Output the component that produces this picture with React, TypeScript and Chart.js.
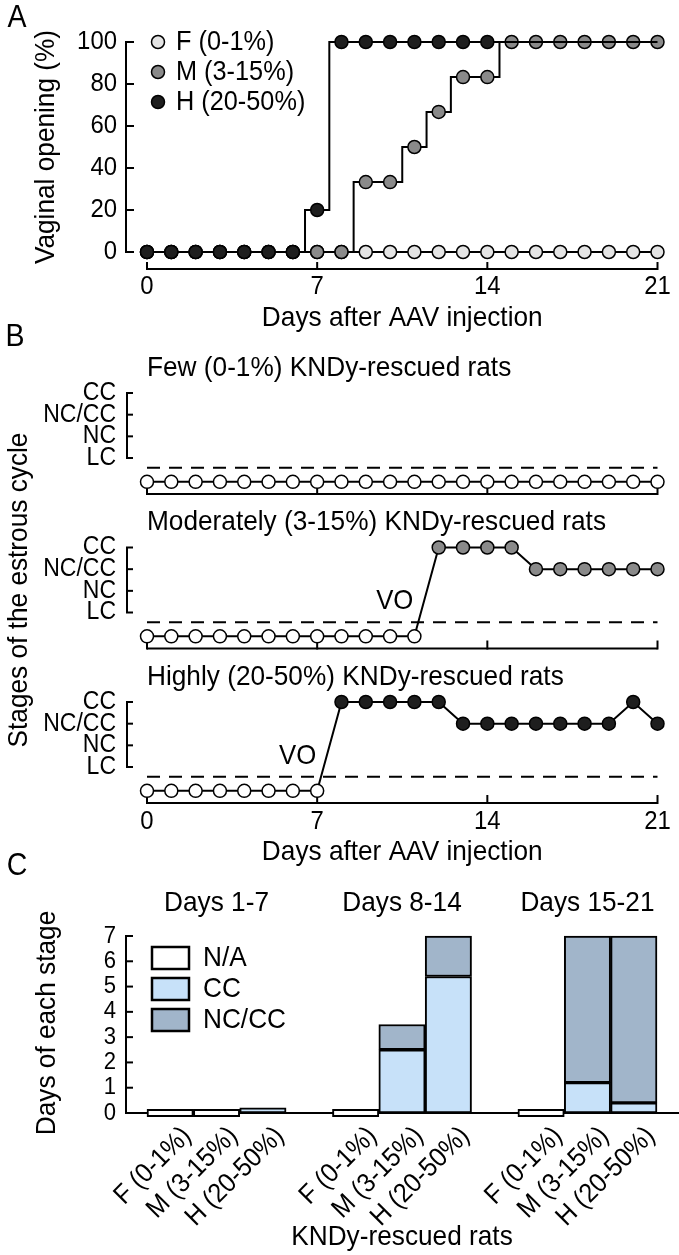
import React, { useEffect, useRef } from 'react';
import { Chart, registerables } from 'chart.js';

Chart.register(...registerables);

// ---------------- data ----------------
const days = [0, 1, 2, 3, 4, 5, 6, 7, 8, 9, 10, 11, 12, 13, 14, 15, 16, 17, 18, 19, 20, 21];
const dayTicks = [0, 7, 14, 21];
const pctTicks = [0, 20, 40, 60, 80, 100];

const seriesNames = ['F (0-1%)', 'M (3-15%)', 'H (20-50%)'];
const vaginalF = [0, 0, 0, 0, 0, 0, 0, 0, 0, 0, 0, 0, 0, 0, 0, 0, 0, 0, 0, 0, 0, 0];
const vaginalM = [0, 0, 0, 0, 0, 0, 0, 0, 0, 33.3, 33.3, 50, 66.7, 83.3, 83.3, 100, 100, 100, 100, 100, 100, 100];
const vaginalH = [0, 0, 0, 0, 0, 0, 0, 20, 100, 100, 100, 100, 100, 100, 100, 100, 100, 100, 100, 100, 100, 100];

const PRE = '-';
const stageLabels = ['CC', 'NC/CC', 'NC', 'LC'];
const subTitles = [
  'Few (0-1%) KNDy-rescued rats',
  'Moderately (3-15%) KNDy-rescued rats',
  'Highly (20-50%) KNDy-rescued rats',
];
const stagesFew = ['-', '-', '-', '-', '-', '-', '-', '-', '-', '-', '-', '-', '-', '-', '-', '-', '-', '-', '-', '-', '-', '-'];
const stagesModerate = ['-', '-', '-', '-', '-', '-', '-', '-', '-', '-', '-', '-', 'CC', 'CC', 'CC', 'CC', 'NC/CC', 'NC/CC', 'NC/CC', 'NC/CC', 'NC/CC', 'NC/CC'];
const stagesHigh = ['-', '-', '-', '-', '-', '-', '-', '-', 'CC', 'CC', 'CC', 'CC', 'CC', 'NC/CC', 'NC/CC', 'NC/CC', 'NC/CC', 'NC/CC', 'NC/CC', 'NC/CC', 'CC', 'NC/CC'];

const periods = ['Days 1-7', 'Days 8-14', 'Days 15-21'];
const ratGroups = ['F (0-1%)', 'M (3-15%)', 'H (20-50%)'];
const ccDays = [[0, 0, 0.2], [0, 2.5, 5.4], [0, 1.2, 0.4]];
const ncccDays = [[0, 0, 0], [0, 1.0, 1.6], [0, 5.8, 6.6]];
const stackTicks = [0, 1, 2, 3, 4, 5, 6, 7];
const stackLegend = ['N/A', 'CC', 'NC/CC'];

// ---------------- style ----------------
const W = 679;
const H = 1255;
const FONT = '"Liberation Sans", Arial, Helvetica, sans-serif';
const SX = 0.92; // slightly condensed lettering
const COL_F = '#e4e4e4';
const COL_M = '#8a8a8a';
const COL_H = '#1e1e1e';
const COL_NA = '#ffffff';
const COL_CC = '#c7e1f9';
const COL_NCCC = '#a1b5ca';
const R = 6.5;

const stageY: Record<string, number> = { CC: 4, 'NC/CC': 3, NC: 2, LC: 1, '-': -0.1 };
const VO_LEVEL = 0.55;

function pad(left: number, top: number, right: number, bottom: number) {
  return { left, top, right: W - right, bottom: H - bottom };
}

function txt(ctx: CanvasRenderingContext2D, s: string, x: number, y: number, size: number, align: CanvasTextAlign = 'center', rot = 0) {
  ctx.save();
  ctx.font = `${size}px ${FONT}`;
  ctx.fillStyle = '#000';
  ctx.textAlign = align;
  ctx.textBaseline = 'middle';
  ctx.translate(x, y);
  if (rot) ctx.rotate(rot);
  ctx.scale(SX, 1);
  ctx.fillText(s, 0, 0);
  ctx.restore();
}

function poly(ctx: CanvasRenderingContext2D, pts: number[][], w = 2, dash: number[] = []) {
  ctx.save();
  ctx.strokeStyle = '#000';
  ctx.lineWidth = w;
  ctx.lineCap = 'butt';
  ctx.lineJoin = 'miter';
  ctx.setLineDash(dash);
  ctx.beginPath();
  pts.forEach((p, i) => (i ? ctx.lineTo(p[0], p[1]) : ctx.moveTo(p[0], p[1])));
  ctx.stroke();
  ctx.restore();
}

function baseOptions(padding: any) {
  return {
    responsive: false,
    animation: false as const,
    devicePixelRatio: 1,
    events: [] as any[],
    layout: { padding },
    plugins: { legend: { display: false }, tooltip: { enabled: false }, title: { display: false } },
  };
}

export default function App() {
  const refA = useRef<HTMLCanvasElement>(null);
  const refB0 = useRef<HTMLCanvasElement>(null);
  const refB1 = useRef<HTMLCanvasElement>(null);
  const refB2 = useRef<HTMLCanvasElement>(null);
  const refC = useRef<HTMLCanvasElement>(null);

  useEffect(() => {
    const charts: Chart[] = [];

    // ---------- Panel A ----------
    const pts = (vals: number[]) => days.map((d, i) => ({ x: d, y: vals[i] }));
    const lineDs = (label: string, vals: number[], fill: string, order: number, radius: any) => ({
      label,
      data: pts(vals),
      order,
      stepped: 'middle' as const,
      borderColor: '#000',
      borderWidth: 2,
      pointBackgroundColor: fill,
      pointBorderColor: '#000',
      pointBorderWidth: 1.5,
      pointRadius: radius,
      clip: false as any,
    });
    charts.push(
      new Chart(refA.current!, {
        type: 'line',
        data: {
          datasets: [
            lineDs(seriesNames[2], vaginalH, COL_H, 0, (c: any) => (c.dataIndex <= 14 ? R : 0)),
            lineDs(seriesNames[1], vaginalM, COL_M, 1, R),
            lineDs(seriesNames[0], vaginalF, COL_F, 2, R),
          ],
        },
        options: {
          ...baseOptions(pad(147, 42, 657.5, 252)),
          scales: {
            x: { type: 'linear', display: false, min: 0, max: 21 },
            y: { type: 'linear', display: false, min: 0, max: 100 },
          },
        } as any,
        plugins: [
          {
            id: 'decoA',
            beforeDatasetsDraw(chart: any) {
              const ctx = chart.ctx;
              const xs = chart.scales.x;
              const ys = chart.scales.y;
              const ax = 126;
              poly(ctx, [[ax, ys.getPixelForValue(0)], [ax, ys.getPixelForValue(100)]]);
              pctTicks.forEach((v) => poly(ctx, [[ax - 1, ys.getPixelForValue(v)], [ax + 8, ys.getPixelForValue(v)]]));
              const by = 269;
              poly(ctx, [[xs.getPixelForValue(0), by], [xs.getPixelForValue(21), by]]);
              dayTicks.forEach((d) => poly(ctx, [[xs.getPixelForValue(d), by + 1], [xs.getPixelForValue(d), by - 7]]));
            },
            afterDraw(chart: any) {
              const ctx = chart.ctx;
              const xs = chart.scales.x;
              const ys = chart.scales.y;
              txt(ctx, 'A', 17, 18, 31);
              pctTicks.forEach((v) => txt(ctx, String(v), 117, ys.getPixelForValue(v), 26, 'right'));
              dayTicks.forEach((d) => txt(ctx, String(d), xs.getPixelForValue(d), 287, 26));
              txt(ctx, 'Days after AAV injection', xs.getPixelForValue(10.5), 318, 28.5);
              txt(ctx, 'Vaginal opening (%)', 46, 147, 28.5, 'center', -Math.PI / 2);
              const fills = [COL_F, COL_M, COL_H];
              seriesNames.forEach((n, i) => {
                const y = 42 + i * 30;
                ctx.save();
                ctx.beginPath();
                ctx.arc(158, y, R, 0, Math.PI * 2);
                ctx.fillStyle = fills[i];
                ctx.fill();
                ctx.lineWidth = 1.5;
                ctx.strokeStyle = '#000';
                ctx.stroke();
                ctx.restore();
                txt(ctx, n, 176, y, 27.5, 'left');
              });
            },
          },
        ],
      })
    );

    // ---------- Panel B ----------
    const bRefs = [refB0, refB1, refB2];
    const bStages = [stagesFew, stagesModerate, stagesHigh];
    const bColors = [COL_F, COL_M, COL_H];
    const bOffsets = [0, 154.5, 309];
    bStages.forEach((stages, k) => {
      const dy = bOffsets[k];
      charts.push(
        new Chart(bRefs[k].current!, {
          type: 'line',
          data: {
            datasets: [
              {
                label: subTitles[k],
                data: days.map((d, i) => ({ x: d, y: stageY[stages[i]] })),
                borderColor: '#000',
                borderWidth: 2,
                tension: 0,
                pointRadius: R,
                pointBorderWidth: 1.5,
                pointBorderColor: '#000',
                pointBackgroundColor: stages.map((s) => (s === PRE ? '#ffffff' : bColors[k])),
                clip: false as any,
              },
            ],
          },
          options: {
            ...baseOptions(pad(147, 393 + dy, 657.5, 494 + dy)),
            scales: {
              x: { type: 'linear', display: false, min: 0, max: 21 },
              y: { type: 'linear', display: false, min: -0.66, max: 4 },
            },
          } as any,
          plugins: [
            {
              id: 'decoB' + k,
              beforeDatasetsDraw(chart: any) {
                const ctx = chart.ctx;
                const xs = chart.scales.x;
                const ys = chart.scales.y;
                const ax = 127;
                poly(ctx, [[ax + 6, ys.getPixelForValue(4)], [ax, ys.getPixelForValue(4)], [ax, ys.getPixelForValue(1)], [ax + 6, ys.getPixelForValue(1)]]);
                [2, 3].forEach((v) => poly(ctx, [[ax, ys.getPixelForValue(v)], [ax + 6, ys.getPixelForValue(v)]]));
                poly(ctx, [[xs.getPixelForValue(0), ys.getPixelForValue(VO_LEVEL)], [xs.getPixelForValue(21), ys.getPixelForValue(VO_LEVEL)]], 2, [13, 9]);
                const by = chart.chartArea.bottom;
                poly(ctx, [[xs.getPixelForValue(0), by], [xs.getPixelForValue(21), by]]);
                dayTicks.forEach((d) => poly(ctx, [[xs.getPixelForValue(d), by + 1], [xs.getPixelForValue(d), by - 8]]));
              },
              afterDraw(chart: any) {
                const ctx = chart.ctx;
                const xs = chart.scales.x;
                const ys = chart.scales.y;
                txt(ctx, subTitles[k], 147, 368 + dy, 28.5, 'left');
                stageLabels.forEach((s) => txt(ctx, s, 116, ys.getPixelForValue(stageY[s]), 25, 'right'));
                const firstPost = stages.findIndex((s) => s !== PRE);
                if (firstPost > 0) txt(ctx, 'VO', xs.getPixelForValue(firstPost - 1) - 1, ys.getPixelForValue(1.5), 28, 'right');
                if (k === 0) txt(ctx, 'B', 15, 337, 31);
                if (k === 1) txt(ctx, 'Stages of the estrous cycle', 19, 590, 28.5, 'center', -Math.PI / 2);
                if (k === 2) {
                  dayTicks.forEach((d) => txt(ctx, String(d), xs.getPixelForValue(d), 822, 26));
                  txt(ctx, 'Days after AAV injection', xs.getPixelForValue(10.5), 852, 28.5);
                }
              },
            },
          ],
        })
      );
    });

    // ---------- Panel C ----------
    const slotLabels: string[] = [];
    const naData: any[] = [];
    const ccData: any[] = [];
    const ncData: any[] = [];
    periods.forEach((p, g) => {
      ratGroups.forEach((r, j) => {
        const cc = ccDays[g][j];
        const nc = ncccDays[g][j];
        slotLabels.push(r);
        naData.push(cc + nc === 0 ? [-0.15, 0.15] : null);
        ccData.push(cc > 0 ? [0, cc] : null);
        ncData.push(nc > 0 ? [cc, cc + nc] : null);
      });
      if (g < periods.length - 1) {
        slotLabels.push('');
        naData.push(null);
        ccData.push(null);
        ncData.push(null);
      }
    });
    const barDs = (label: string, data: any[], color: string) => ({
      label,
      data,
      backgroundColor: color,
      borderColor: '#000',
      borderWidth: 2,
      borderSkipped: false as any,
      grouped: false,
      barPercentage: 1,
      categoryPercentage: 1,
      clip: false as any,
    });
    const legendColors = [COL_NA, COL_CC, COL_NCCC];
    charts.push(
      new Chart(refC.current!, {
        type: 'bar',
        data: {
          labels: slotLabels,
          datasets: [
            barDs(stackLegend[0], naData, COL_NA),
            barDs(stackLegend[1], ccData, COL_CC),
            barDs(stackLegend[2], ncData, COL_NCCC),
          ],
        },
        options: {
          ...baseOptions(pad(147, 936, 657, 1113)),
          scales: {
            x: { type: 'category', display: false, offset: true },
            y: { type: 'linear', display: false, min: 0, max: 7 },
          },
        } as any,
        plugins: [
          {
            id: 'decoC',
            beforeDatasetsDraw(chart: any) {
              const ctx = chart.ctx;
              const ys = chart.scales.y;
              const ax = 126;
              poly(ctx, [[ax, ys.getPixelForValue(0)], [ax, ys.getPixelForValue(7)]]);
              stackTicks.forEach((v) => poly(ctx, [[ax - 1, ys.getPixelForValue(v)], [ax + 7, ys.getPixelForValue(v)]]));
              poly(ctx, [[ax - 1, ys.getPixelForValue(0)], [W, ys.getPixelForValue(0)]]);
            },
            afterDraw(chart: any) {
              const ctx = chart.ctx;
              const xs = chart.scales.x;
              const ys = chart.scales.y;
              txt(ctx, 'C', 17, 866, 31);
              stackTicks.forEach((v) => txt(ctx, String(v), 116, ys.getPixelForValue(v), 24, 'right'));
              slotLabels.forEach((l, i) => {
                if (!l) return;
                txt(ctx, l, xs.getPixelForValue(i) + 17, 1132, 27, 'right', -Math.PI / 4);
              });
              periods.forEach((p, g) => txt(ctx, p, xs.getPixelForValue(g * 4 + 1), 903, 28.5));
              stackLegend.forEach((n, i) => {
                const y = 958 + i * 31;
                ctx.save();
                ctx.fillStyle = legendColors[i];
                ctx.fillRect(152, y - 11, 37, 22);
                ctx.lineWidth = 2.5;
                ctx.strokeStyle = '#000';
                ctx.strokeRect(152, y - 11, 37, 22);
                ctx.restore();
                txt(ctx, n, 203, y, 28.5, 'left');
              });
              txt(ctx, 'Days of each stage', 47, 1023, 28.5, 'center', -Math.PI / 2);
              txt(ctx, 'KNDy-rescued rats', xs.getPixelForValue(5), 1237, 28.5);
            },
          },
        ],
      })
    );

    return () => charts.forEach((c) => c.destroy());
  }, []);

  const cs: React.CSSProperties = { position: 'absolute', left: 0, top: 0, width: W, height: H };
  return (
    <div style={{ position: 'absolute', left: 0, top: 0, width: W, height: H, background: '#fff', overflow: 'hidden' }}>
      <canvas ref={refA} width={W} height={H} style={cs} />
      <canvas ref={refB0} width={W} height={H} style={cs} />
      <canvas ref={refB1} width={W} height={H} style={cs} />
      <canvas ref={refB2} width={W} height={H} style={cs} />
      <canvas ref={refC} width={W} height={H} style={cs} />
    </div>
  );
}
